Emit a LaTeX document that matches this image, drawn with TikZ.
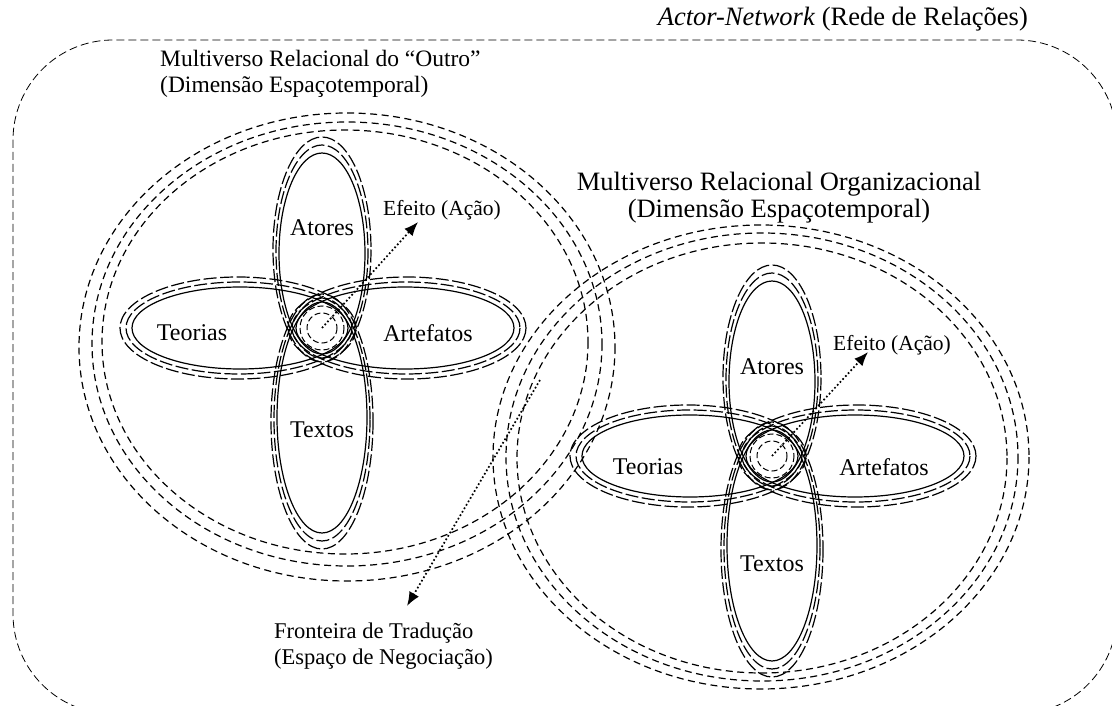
\documentclass[tikz,border=0pt]{standalone}
\usepackage{fontspec}
\setmainfont{Liberation Serif}
\usetikzlibrary{arrows.meta}

\begin{document}
\begin{tikzpicture}[x=1pt, y=-1pt,
  netline/.style={line width=0.8pt, dash pattern=on 8pt off 4pt},
  multiverse/.style={line width=1.2pt, dash pattern=on 7pt off 4.5pt},
  petal/.style={line width=1.2pt},
  petaldash/.style={line width=1.2pt, dash pattern=on 13pt off 3.5pt},
  coredash/.style={line width=1pt, dash pattern=on 6pt off 3pt},
  effect/.style={line width=1.7pt, dash pattern=on 1.7pt off 2.3pt, -{Latex[length=14pt,width=11pt]}},
  titlelabel/.style={font=\fontsize{26.5}{27}\selectfont, inner sep=0pt},
  biglabel/.style={font=\fontsize{24}{26}\selectfont, inner sep=0pt},
  smalllabel/.style={font=\fontsize{21.5}{26}\selectfont, inner sep=0pt}]

  \useasboundingbox (0,0) rectangle (1112,706);

  % Actor-network border
  \draw[netline, rounded corners=100pt] (13,40) rectangle (1117,714);
  \node[titlelabel, anchor=east] (network) at (1028,19) {\textit{Actor-Network} (Rede de Relações)};

  % Multiverse of the "other" (left)
  \draw[multiverse] (345,342) ellipse (243 and 212);
  \draw[multiverse] (347,344) ellipse (255 and 222);
  \draw[multiverse] (347,347) ellipse (268 and 234);
  \node[biglabel, font=\fontsize{23.5}{26}\selectfont, anchor=west, align=left] (outro) at (160,74) {Multiverso Relacional do “Outro”\\(Dimensão Espaçotemporal)};

  % Organizational multiverse (right)
  \draw[multiverse] (762,458) ellipse (245 and 215);
  \draw[multiverse] (762,457) ellipse (256 and 224);
  \draw[multiverse] (761,457) ellipse (268 and 232);
  \node[titlelabel, align=center] (org) at (779,198) {Multiverso Relacional Organizacional\\(Dimensão Espaçotemporal)};

  % Left cluster
  \begin{scope}[shift={(322,328)}]
    % Atores
    \draw[petal] (0,-74.5) ellipse (43 and 100.5);
    \draw[petaldash] (0,-76.5) ellipse (46 and 106.5);
    \draw[petaldash] (0,-78.5) ellipse (49 and 112.5);
    % Textos
    \draw[petal] (0,89.5) ellipse (45 and 115.5);
    \draw[petaldash] (0,91.5) ellipse (48 and 121.5);
    \draw[petaldash] (0,93.5) ellipse (51 and 127.5);
    % Teorias
    \draw[petal] (-82,0) ellipse (108 and 41);
    \draw[petaldash] (-83,0) ellipse (113 and 46);
    \draw[petaldash] (-84,0) ellipse (118 and 51);
    % Artefatos
    \draw[petal] (83,0) ellipse (109 and 41);
    \draw[petaldash] (84,0) ellipse (114 and 46);
    \draw[petaldash] (85,0) ellipse (119 and 51);
    % core
    \draw[coredash] (0,0) circle (15);
    \draw[coredash] (0,0) circle (22);
    \coordinate (c1) at (0,0);
    \coordinate (e1) at (96,-106);
    \node[biglabel] (atores1) at (0,-100) {Atores};
    \node[biglabel] (textos1) at (0,102) {Textos};
    \node[biglabel] (teorias1) at (-130,5) {Teorias};
    \node[biglabel] (artefatos1) at (106,5) {Artefatos};
    \node[smalllabel, anchor=west] (efeito1) at (61,-118) {Efeito (Ação)};
  \end{scope}
  \draw[effect] (c1) -- (e1);

  % Right cluster
  \begin{scope}[shift={(772,456)}]
    % Atores
    \draw[petal] (0,-74.5) ellipse (43 and 100.5);
    \draw[petaldash] (0,-76.5) ellipse (46 and 106.5);
    \draw[petaldash] (0,-78.5) ellipse (49 and 112.5);
    % Textos
    \draw[petal] (0,89.5) ellipse (45 and 115.5);
    \draw[petaldash] (0,91.5) ellipse (48 and 121.5);
    \draw[petaldash] (0,93.5) ellipse (51 and 127.5);
    % Teorias
    \draw[petal] (-82,0) ellipse (108 and 41);
    \draw[petaldash] (-83,0) ellipse (113 and 46);
    \draw[petaldash] (-84,0) ellipse (118 and 51);
    % Artefatos
    \draw[petal] (83,0) ellipse (109 and 41);
    \draw[petaldash] (84,0) ellipse (114 and 46);
    \draw[petaldash] (85,0) ellipse (119 and 51);
    % core
    \draw[coredash] (0,0) circle (15);
    \draw[coredash] (0,0) circle (22);
    \coordinate (c2) at (0,0);
    \coordinate (e2) at (96,-104);
    \node[biglabel] (atores2) at (0,-89) {Atores};
    \node[biglabel] (textos2) at (0,108) {Textos};
    \node[biglabel] (teorias2) at (-124,11) {Teorias};
    \node[biglabel] (artefatos2) at (112,11) {Artefatos};
    \node[smalllabel, anchor=west] (efeito2) at (61,-111) {Efeito (Ação)};
  \end{scope}
  \draw[effect] (c2) -- (e2);

  % Translation frontier
  \coordinate (f0) at (540,380);
  \coordinate (f1) at (407,606);
  \draw[effect] (f0) -- (f1);
  \node[smalllabel, font=\fontsize{22.5}{26}\selectfont, anchor=west, align=left] (fronteira) at (274,646) {Fronteira de Tradução\\(Espaço de Negociação)};
\end{tikzpicture}
\end{document}
